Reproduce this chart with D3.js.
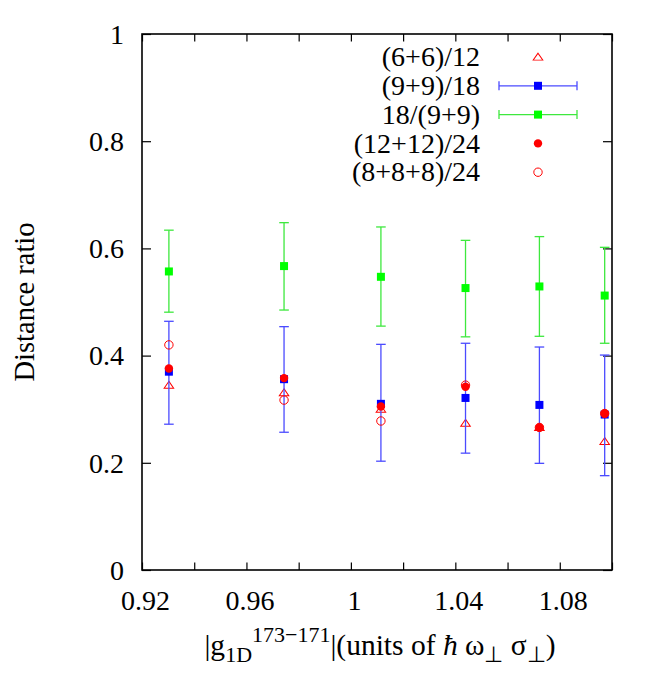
<!DOCTYPE html>
<html>
<head>
<meta charset="utf-8">
<script src="https://cdn.jsdelivr.net/npm/d3@7"></script>
<style>
  html, body { margin: 0; padding: 0; background: #fff; }
  svg text { font-family: "Liberation Serif", "Times New Roman", serif; fill: #000; }
</style>
</head>
<body>
<svg id="chart" width="664" height="692"></svg>
<script>
// ---- data ----
const xValues = [0.9303, 0.9744, 1.0115, 1.0439, 1.0722, 1.0972];

const tri6 = [0.345, 0.331, 0.300, 0.274, 0.266, 0.240];           // (6+6)/12

const blueY  = [0.370, 0.356, 0.310, 0.321, 0.308, 0.290];         // (9+9)/18
const blueLo = [0.272, 0.257, 0.203, 0.218, 0.199, 0.176];
const blueHi = [0.464, 0.454, 0.421, 0.423, 0.416, 0.401];

const greenY  = [0.557, 0.567, 0.547, 0.526, 0.529, 0.512];        // 18/(9+9)
const greenLo = [0.481, 0.485, 0.455, 0.435, 0.436, 0.423];
const greenHi = [0.634, 0.648, 0.640, 0.615, 0.622, 0.602];

const fill12 = [0.376, 0.358, 0.305, 0.342, 0.266, 0.292];          // (12+12)/24
const open8  = [0.420, 0.317, 0.278, 0.345, 0.266, 0.292];          // (8+8+8)/24

const legendLabels = ["(6+6)/12", "(9+9)/18", "18/(9+9)", "(12+12)/24", "(8+8+8)/24"];
const xTickValues = [0.92, 0.94, 0.96, 0.98, 1.00, 1.02, 1.04, 1.06, 1.08, 1.10];
const xTickLabels = [0.92, 0.96, 1.00, 1.04, 1.08];
const yTickValues = [0, 0.2, 0.4, 0.6, 0.8, 1];
const yLabel = "Distance ratio";

// ---- layout ----
const svg = d3.select("#chart");
const L = 142, R = 612, T = 34, B = 570;
const x = d3.scaleLinear().domain([0.92, 1.10]).range([L, R]);
const y = d3.scaleLinear().domain([0, 1]).range([B, T]);
const FS = 28;
const red = "#ff0000", blue = "#0000ff", green = "#00ff00";
const blueBar = "#4b4bff", greenBar = "#3ee83e";

// axes (ticks inward, on all four sides)
const fmt = d => (d === 1 ? "1" : d3.format("~g")(d));
const axB = d3.axisBottom(x).tickValues(xTickValues).tickSize(-7.5).tickSizeOuter(0)
  .tickFormat(d => xTickLabels.some(v => Math.abs(v - d) < 1e-9) ? fmt(+d.toFixed(2)) : "");
const axT = d3.axisTop(x).tickValues(xTickValues).tickSize(-7.5).tickSizeOuter(0).tickFormat("");
const axL = d3.axisLeft(y).tickValues(yTickValues).tickSize(-9).tickSizeOuter(0).tickFormat(fmt);
const axR = d3.axisRight(y).tickValues(yTickValues).tickSize(-9).tickSizeOuter(0).tickFormat("");

function styleAxis(g) {
  g.select(".domain").remove();
  g.selectAll(".tick line").attr("stroke", "#000").attr("stroke-width", 1.2);
  g.selectAll("text").attr("font-size", FS).attr("font-family", '"Liberation Serif", serif').attr("fill", "#000");
}
svg.append("g").attr("transform", `translate(0,${B})`).call(axB).call(styleAxis)
  .selectAll("text").attr("dy", null).attr("y", 40).attr("x", 3);
svg.append("g").attr("transform", `translate(0,${T})`).call(axT).call(styleAxis);
svg.append("g").attr("transform", `translate(${L},0)`).call(axL).call(styleAxis)
  .selectAll("text").attr("x", -18).attr("dy", "0.33em");
svg.append("g").attr("transform", `translate(${R},0)`).call(axR).call(styleAxis);

// frame
svg.append("rect").attr("x", L).attr("y", T).attr("width", R - L).attr("height", B - T)
  .attr("fill", "none").attr("stroke", "#000").attr("stroke-width", 1.6);

// marker helpers
const sq = 8, cr = 4.2;
function drawTri(g, cx, cy) {
  g.append("path").attr("d", d3.symbol(d3.symbolTriangle, 34)())
    .attr("transform", `translate(${cx},${cy + 0.8}) scale(1.08,0.9)`)
    .attr("fill", "none").attr("stroke", red).attr("stroke-width", 1);
}
function drawSq(g, cx, cy, c) {
  g.append("rect").attr("x", cx - sq / 2).attr("y", cy - sq / 2).attr("width", sq).attr("height", sq).attr("fill", c);
}
function drawDot(g, cx, cy) {
  g.append("circle").attr("cx", cx).attr("cy", cy).attr("r", cr).attr("fill", red);
}
function drawRing(g, cx, cy) {
  g.append("circle").attr("cx", cx).attr("cy", cy).attr("r", cr).attr("fill", "none").attr("stroke", red).attr("stroke-width", 1);
}
function errBar(g, xv, lo, hi, c) {
  const cap = 4.8;
  g.append("line").attr("x1", x(xv)).attr("x2", x(xv)).attr("y1", y(lo)).attr("y2", y(hi)).attr("stroke", c).attr("stroke-width", 1.3);
  [lo, hi].forEach(v => g.append("line").attr("x1", x(xv) - cap).attr("x2", x(xv) + cap)
    .attr("y1", y(v)).attr("y2", y(v)).attr("stroke", c).attr("stroke-width", 1.3));
}

const plot = svg.append("g");
// plot order as in the legend
xValues.forEach((xv, i) => drawTri(plot, x(xv), y(tri6[i])));
xValues.forEach((xv, i) => { errBar(plot, xv, blueLo[i], blueHi[i], blueBar); drawSq(plot, x(xv), y(blueY[i]), blue); });
xValues.forEach((xv, i) => { errBar(plot, xv, greenLo[i], greenHi[i], greenBar); drawSq(plot, x(xv), y(greenY[i]), green); });
xValues.forEach((xv, i) => drawDot(plot, x(xv), y(fill12[i])));
xValues.forEach((xv, i) => drawRing(plot, x(xv), y(open8[i])));

// legend
const legX = 480, legSample = 538, legY0 = 57, legDy = 28.8;
const leg = svg.append("g");
legendLabels.forEach((t, i) => {
  const cy = legY0 + i * legDy;
  leg.append("text").attr("x", legX).attr("y", cy).attr("dy", "0.33em")
    .attr("text-anchor", "end").attr("font-size", FS).text(t);
  if (i === 0) drawTri(leg, legSample, cy);
  if (i === 1 || i === 2) {
    const c = i === 1 ? blueBar : greenBar;
    leg.append("line").attr("x1", 499).attr("x2", 577).attr("y1", cy).attr("y2", cy).attr("stroke", c).attr("stroke-width", 1.3);
    [499, 577].forEach(xx => leg.append("line").attr("x1", xx).attr("x2", xx).attr("y1", cy - 4.5).attr("y2", cy + 4.5).attr("stroke", c).attr("stroke-width", 1.3));
    drawSq(leg, legSample, cy, i === 1 ? blue : green);
  }
  if (i === 3) drawDot(leg, legSample, cy);
  if (i === 4) drawRing(leg, legSample, cy);
});

// y label
svg.append("text").attr("transform", `translate(33.5,${(T + B) / 2}) rotate(-90)`)
  .attr("text-anchor", "middle").attr("font-size", 28.5).text(yLabel);

// x label
const SUB = 22;
const xl = svg.append("text").attr("x", 380).attr("y", 654.5).attr("text-anchor", "middle").attr("font-size", 29.5);
xl.append("tspan").text("|g");
xl.append("tspan").attr("font-size", SUB).attr("dy", 7.5).text("1D");
xl.append("tspan").attr("font-size", SUB).attr("dy", -20.5).text("173\u2212171");
xl.append("tspan").attr("dy", 13).text("|(units of ");
xl.append("tspan").attr("font-style", "italic").text("\u0127");
xl.append("tspan").text(" \u03c9");
xl.append("tspan").attr("font-size", SUB).attr("dy", 7).text("\u22a5");
xl.append("tspan").attr("dy", -7).text(" \u03c3");
xl.append("tspan").attr("font-size", SUB).attr("dy", 7).text("\u22a5");
xl.append("tspan").attr("dy", -7).text(")");
</script>
</body>
</html>
